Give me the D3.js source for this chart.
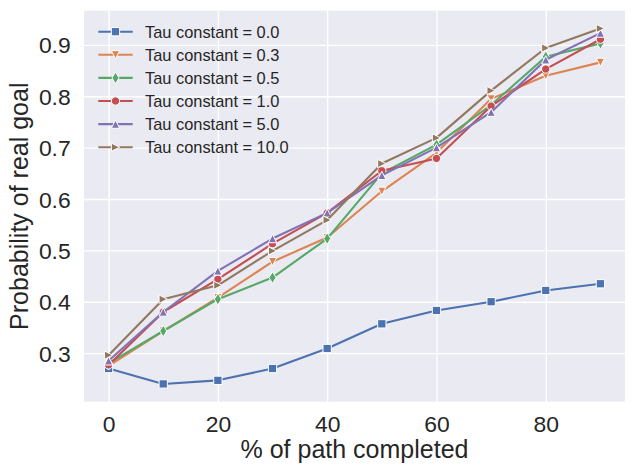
<!DOCTYPE html>
<html>
<head>
<meta charset="utf-8">
<script src="https://cdn.jsdelivr.net/npm/d3@7"></script>
<style>
html, body { margin: 0; padding: 0; background: #fff; }
svg { display: block; }
text { font-family: "Liberation Sans", Arial, sans-serif; fill: #262626; }
</style>
</head>
<body>
<svg id="chart" width="635" height="475"></svg>
<script>
// ---- data ----
const pathCompleted = [0, 10, 20, 30, 40, 50, 60, 70, 80, 90];
const seriesNames = ["Tau constant = 0.0", "Tau constant = 0.3", "Tau constant = 0.5",
                     "Tau constant = 1.0", "Tau constant = 5.0", "Tau constant = 10.0"];
const tau0_0  = [0.270, 0.240, 0.247, 0.270, 0.309, 0.357, 0.383, 0.400, 0.422, 0.435];
const tau0_3  = [0.275, 0.343, 0.408, 0.478, 0.525, 0.615, 0.690, 0.795, 0.840, 0.866];
const tau0_5  = [0.280, 0.343, 0.405, 0.447, 0.523, 0.650, 0.706, 0.783, 0.877, 0.903];
const tau1_0  = [0.277, 0.380, 0.444, 0.513, 0.573, 0.655, 0.679, 0.781, 0.853, 0.911];
const tau5_0  = [0.285, 0.380, 0.460, 0.523, 0.573, 0.646, 0.700, 0.769, 0.871, 0.923];
const tau10_0 = [0.296, 0.405, 0.432, 0.499, 0.559, 0.669, 0.719, 0.811, 0.894, 0.932];
const xTicks = [0, 20, 40, 60, 80];
const yTicks = [0.3, 0.4, 0.5, 0.6, 0.7, 0.8, 0.9];
const xLabel = "% of path completed";
const yLabel = "Probability of real goal";

const seriesValues = [tau0_0, tau0_3, tau0_5, tau1_0, tau5_0, tau10_0];
const colors = ["#4C72B0", "#DD8452", "#55A868", "#C44E52", "#8172B3", "#937860"];
const markers = ["square", "tridown", "thindiamond", "circle", "triup", "triright"];

// ---- layout ----
const svg = d3.select("#chart");
const plot = { left: 84, right: 625, top: 10.7, bottom: 401.7 };

const x = d3.scaleLinear().domain([-4.5, 94.5]).range([plot.left, plot.right]);
const y = d3.scaleLinear().domain([0.2054, 0.9666]).range([plot.bottom, plot.top]);

svg.append("rect")
  .attr("x", plot.left).attr("y", plot.top)
  .attr("width", plot.right - plot.left).attr("height", plot.bottom - plot.top)
  .attr("fill", "#EAEAF2");

// grid via axes
const xAxis = d3.axisBottom(x).tickValues(xTicks).tickSize(-(plot.bottom - plot.top)).tickPadding(14).tickFormat(d3.format("d"));
const yAxis = d3.axisLeft(y).tickValues(yTicks).tickSize(-(plot.right - plot.left)).tickPadding(13).tickFormat(d3.format(".1f"));

const gx = svg.append("g").attr("transform", `translate(0,${plot.bottom})`).call(xAxis);
const gy = svg.append("g").attr("transform", `translate(${plot.left},0)`).call(yAxis);
[gx, gy].forEach(g => {
  g.select(".domain").remove();
  g.selectAll(".tick line").attr("stroke", "#fff").attr("stroke-width", 1.4);
  g.selectAll(".tick text").attr("font-size", "22.9px").attr("fill", "#262626")
    .style("font-family", "'Liberation Sans', Arial, sans-serif");
});
gx.selectAll(".tick text").attr("dy", null).attr("y", 30).attr("dominant-baseline", "alphabetic");
gy.selectAll(".tick text").attr("x", -13.3).attr("dy", "0.35em");

// axis labels
svg.append("text")
  .attr("x", (plot.left + plot.right) / 2).attr("y", 458)
  .attr("text-anchor", "middle").attr("font-size", "25px").text(xLabel);
svg.append("text")
  .attr("transform", `translate(27.5,${(plot.top + plot.bottom) / 2}) rotate(-90)`)
  .attr("text-anchor", "middle").attr("font-size", "25px").text(yLabel);

// ---- markers ----
const MS = 8.3;
function markerPath(type, s) {
  const h = s / 2;
  switch (type) {
    case "square": return `M${-h},${-h}H${h}V${h}H${-h}Z`;
    case "circle": return `M${h},0A${h},${h} 0 1,1 ${-h},0A${h},${h} 0 1,1 ${h},0Z`;
    case "triup": return `M0,${-h}L${h},${h}L${-h},${h}Z`;
    case "tridown": return `M0,${h}L${h},${-h}L${-h},${-h}Z`;
    case "triright": return `M${h},0L${-h},${h}L${-h},${-h}Z`;
    case "thindiamond": {
      const d = s * Math.SQRT2 / 2;
      const w = d * 0.6;
      return `M0,${-d}L${w},0L0,${d}L${-w},0Z`;
    }
  }
}

const line = d3.line().x(d => x(d[0])).y(d => y(d[1]));
const plotG = svg.append("g");
seriesValues.forEach((vals, i) => {
  const pts = pathCompleted.map((p, j) => [p, vals[j]]);
  const g = plotG.append("g");
  g.append("path").datum(pts).attr("d", line)
    .attr("fill", "none").attr("stroke", colors[i]).attr("stroke-width", 2.1)
    .attr("stroke-linejoin", "round").attr("stroke-linecap", "round");
  g.selectAll("path.mk").data(pts).enter().append("path").attr("class", "mk")
    .attr("transform", d => `translate(${x(d[0])},${y(d[1])})`)
    .attr("d", markerPath(markers[i], MS))
    .attr("fill", colors[i]).attr("stroke", "#fff").attr("stroke-width", 1);
});

// ---- legend ----
const leg = svg.append("g");
const rowY0 = 31.7, rowStep = 23.1;
seriesNames.forEach((name, i) => {
  const cy = rowY0 + i * rowStep;
  leg.append("line").attr("x1", 98.3).attr("x2", 132.7).attr("y1", cy).attr("y2", cy)
    .attr("stroke", colors[i]).attr("stroke-width", 2.1);
  leg.append("path").attr("transform", `translate(115.5,${cy})`)
    .attr("d", markerPath(markers[i], MS))
    .attr("fill", colors[i]).attr("stroke", "#fff").attr("stroke-width", 1);
  leg.append("text").attr("x", 145).attr("y", cy + 5.8)
    .attr("font-size", "16.4px").text(name);
});
</script>
</body>
</html>
